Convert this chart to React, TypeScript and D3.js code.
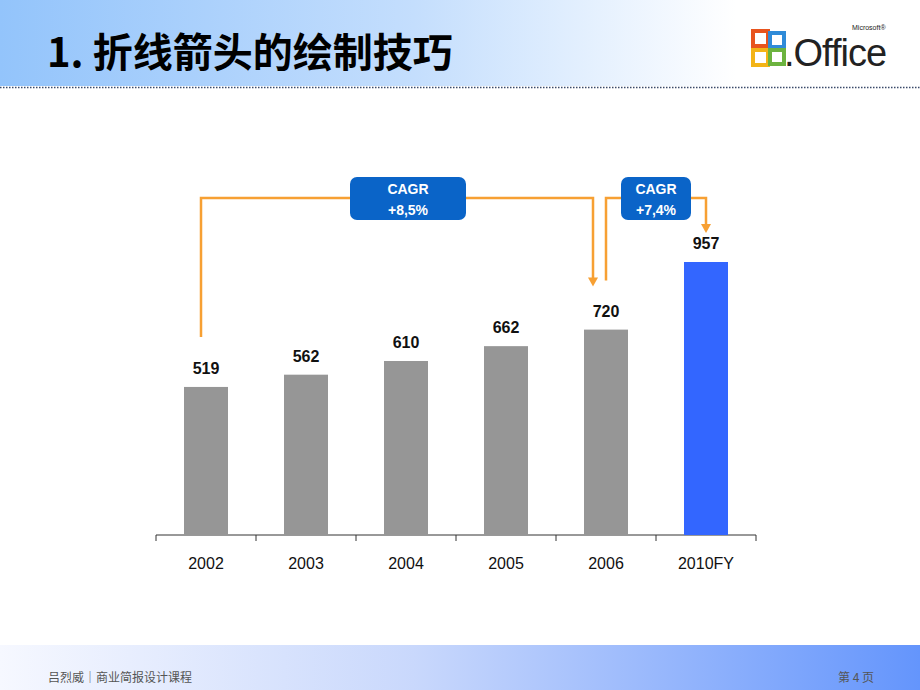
import React from "react";
import * as d3 from "d3";

const categories = ["2002", "2003", "2004", "2005", "2006", "2010FY"];
const values = [519, 562, 610, 662, 720, 957];
const highlight = "2010FY";
const cagrLabels = [
    { from: "2002", to: "2006", text: ["CAGR", "+8,5%"] },
    { from: "2006", to: "2010FY", text: ["CAGR", "+7,4%"] },
];

const W = 920;
const H = 690;
const ORANGE = "#F7A033";
const BOX = "#0A64C8";
const FONT = "'Liberation Sans', Arial, sans-serif";
const CJK = "'Noto Sans CJK SC', sans-serif";

export default function App() {
    const x = d3.scaleBand<string>().domain(categories).range([156, 756]).paddingInner(0.56).paddingOuter(0.28);
    const y = d3.scaleLinear().domain([0, 957]).range([535, 262]);
    const bw = x.bandwidth();
    const cx = (c: string) => (x(c) ?? 0) + bw / 2;
    const valOf = (c: string) => values[categories.indexOf(c)];
    const ticks = d3.range(categories.length + 1).map(i => 156 + i * x.step());

    const bracketY = 198;

    // first bracket: 2002 -> 2006
    const a = cagrLabels[0];
    const a0 = cx(a.from) - 5;
    const a1 = cx(a.to) - 13;
    const aStart = y(valOf(a.from)) - 50;
    const aEnd = y(valOf(a.to)) - 43;
    const box1 = { x0: 350, x1: 466 };

    // second bracket: 2006 -> 2010FY
    const b = cagrLabels[1];
    const b0 = cx(b.from);
    const b1 = cx(b.to);
    const bStart = y(valOf(b.from)) - 49;
    const bEnd = y(valOf(b.to)) - 29;
    const box2 = { x0: 621, x1: 691 };

    const arrowHead = (px: number, py: number) =>
        `M${px - 5},${py - 9} L${px + 5},${py - 9} L${px},${py} Z`;

    const box = (bx: { x0: number; x1: number }, text: string[], key: string) => (
        <g key={key}>
            <rect x={bx.x0} y={177} width={bx.x1 - bx.x0} height={43} rx={7} fill={BOX} />
            <text x={(bx.x0 + bx.x1) / 2} y={194} textAnchor="middle" fill="#fff" fontFamily={FONT}
                fontWeight="bold" fontSize={14}>{text[0]}</text>
            <text x={(bx.x0 + bx.x1) / 2} y={215} textAnchor="middle" fill="#fff" fontFamily={FONT}
                fontWeight="bold" fontSize={14}>{text[1]}</text>
        </g>
    );

    return (
        <div style={{ position: "absolute", left: 0, top: 0 }}>
            <svg width={W} height={H} style={{ display: "block" }}>
                <defs>
                    <linearGradient id="hdr" x1="0" x2="1" y1="0" y2="0">
                        <stop offset="0" stopColor="#93C4FB" />
                        <stop offset="0.45" stopColor="#C4DEFD" />
                        <stop offset="0.8" stopColor="#FFFFFF" />
                    </linearGradient>
                    <linearGradient id="ftr" x1="0" x2="1" y1="0" y2="0">
                        <stop offset="0" stopColor="#F6F8FF" />
                        <stop offset="0.45" stopColor="#C9D8FC" />
                        <stop offset="1" stopColor="#6495FC" />
                    </linearGradient>
                </defs>
                <rect width={W} height={H} fill="#fff" />

                {/* header */}
                <rect x={0} y={0} width={W} height={86} fill="url(#hdr)" />
                <line x1={0} x2={W} y1={87.5} y2={87.5} stroke="#3a4a6a" strokeWidth={1.5} strokeDasharray="1.5 1.5" />
                <text x={47} y={67} fontFamily={CJK} fontWeight="bold" fontSize={40} fill="#000">
                    1. 折线箭头的绘制技巧
                </text>

                {/* office logo */}
                <g>
                    <rect x={753} y={31} width={15} height={15} fill="none" stroke="#E8541E" strokeWidth={4} />
                    <rect x={770} y={33} width={14} height={14} fill="none" stroke="#2F8BD8" strokeWidth={4} />
                    <rect x={753} y={50} width={15} height={15} fill="none" stroke="#F3B417" strokeWidth={4} />
                    <rect x={770} y={50} width={14} height={14} fill="none" stroke="#6CB33F" strokeWidth={4} />
                    <text x={784} y={66} fontFamily={FONT} fontSize={38} fill="#222" letterSpacing={-1}>.Office</text>
                    <text x={852} y={30} fontFamily={FONT} fontSize={7} fill="#222">Microsoft®</text>
                </g>

                {/* axis */}
                <line x1={156} x2={756} y1={535} y2={535} stroke="#333" strokeWidth={1} />
                {ticks.map((t, i) => (
                    <line key={i} x1={t} x2={t} y1={535} y2={541} stroke="#333" strokeWidth={1} />
                ))}

                {/* bars */}
                {categories.map((c, i) => (
                    <g key={c}>
                        <rect x={x(c)} y={y(values[i])} width={bw} height={535 - y(values[i])}
                            fill={c === highlight ? "#3366FF" : "#969696"} />
                        <text x={cx(c)} y={y(values[i]) - 13} textAnchor="middle" fontFamily={FONT}
                            fontWeight="bold" fontSize={16} fill="#111">{values[i]}</text>
                        <text x={cx(c)} y={569} textAnchor="middle" fontFamily={FONT}
                            fontSize={16} fill="#111">{c}</text>
                    </g>
                ))}

                {/* CAGR brackets */}
                <path d={`M${a0},${aStart} V${bracketY} H${box1.x0}`} fill="none" stroke={ORANGE} strokeWidth={2.5} />
                <path d={`M${box1.x1},${bracketY} H${a1} V${aEnd - 8}`} fill="none" stroke={ORANGE} strokeWidth={2.5} />
                <path d={arrowHead(a1, aEnd)} fill={ORANGE} />
                {box(box1, a.text, "b1")}

                <path d={`M${b0},${bStart} V${bracketY} H${box2.x0}`} fill="none" stroke={ORANGE} strokeWidth={2.5} />
                <path d={`M${box2.x1},${bracketY} H${b1} V${bEnd - 8}`} fill="none" stroke={ORANGE} strokeWidth={2.5} />
                <path d={arrowHead(b1, bEnd)} fill={ORANGE} />
                {box(box2, b.text, "b2")}

                {/* footer */}
                <rect x={0} y={645} width={W} height={45} fill="url(#ftr)" />
                <text x={48} y={682} fontFamily={CJK} fontSize={12} fill="#555">吕烈威│商业简报设计课程</text>
                <text x={838} y={682} fontFamily={CJK} fontSize={12} fill="#555">第 4 页</text>
            </svg>
        </div>
    );
}
